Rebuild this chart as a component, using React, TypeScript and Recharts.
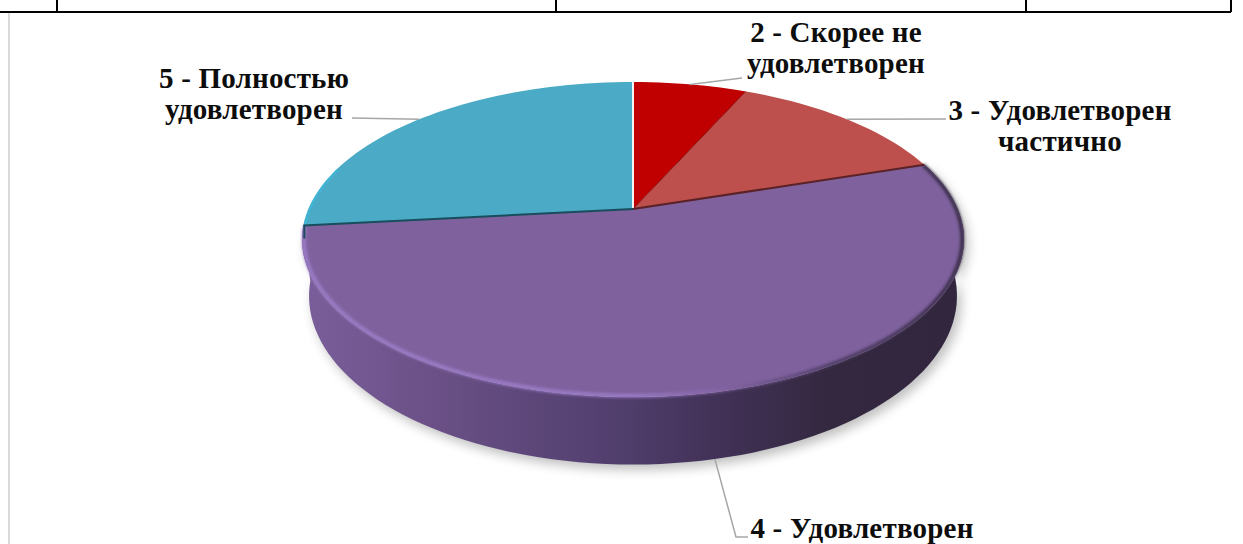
import React from 'react';
import { PieChart, Pie } from 'recharts';

const categories = ['2 - Скорее не удовлетворен', '3 - Удовлетворен частично', '4 - Удовлетворен', '5 - Полностью удовлетворен'];
const shares = [6.7, 13.3, 53.3, 26.7];

const labelLines = [['2 - Скорее не', 'удовлетворен'], ['3 - Удовлетворен', 'частично'], ['4 - Удовлетворен'], ['5 - Полностью', 'удовлетворен']];
const labelCenters = [[836, 34], [1060, 112], [862, 530], [254, 80]];
const lineBends = [[[742, 78]], [[946, 119]], [[736, 537], [748, 537]], [[352, 118]]];

const sliceColors = ['#c00000', '#bd504d', '#7f619e', '#4babc6'];
// colour of the seam at the start of each slice
const seamColors = ['#f4f4f4', '#8a1414', '#5a2226', '#174d5c'];
const WALL_INDEX = 2;

const chartData = categories.map((name, i) => ({ name, value: shares[i] }));

const CX = 633;
const CY = 209;
const RADIUS = 331;

// excel's 3d view: a circle seen in perspective, the centre sits above the ellipse middle
const TILT = -0.1937;
const STRETCH = 111.1;
const WIDTH = 0.981;
const RIM_CY = 239.5;
const RIM_RY = 157;
const FLOOR_CY = 296;
const FLOOR_RX = 324;
const FLOOR_RY = 168;

const project = (deg: number, r = 1) => {
  const t = ((90 - deg) * Math.PI) / 180;
  const u = Math.sin(t) * r;
  const v = -Math.cos(t) * r;
  const w = 1 + TILT * v;
  return { x: CX + (RADIUS * WIDTH * u) / w, y: (STRETCH * v + CY) / w };
};

const toFloor = (p: { x: number; y: number }) => ({
  x: CX + (FLOOR_RX * (p.x - CX)) / RADIUS,
  y: FLOOR_CY + (FLOOR_RY * (p.y - RIM_CY)) / RIM_RY,
});

const sampleArc = (from: number, to: number, r = 1) => {
  const steps = Math.max(4, Math.ceil(Math.abs(to - from) / 2));
  const pts = [];
  for (let i = 0; i <= steps; i++) pts.push(project(from + ((to - from) * i) / steps, r));
  return pts;
};

const toPath = (pts: { x: number; y: number }[]) => pts.map((p, i) => `${i ? 'L' : 'M'}${p.x.toFixed(1)} ${p.y.toFixed(1)}`).join(' ');

const WallShape = (props: any) => {
  if (categories.indexOf(props.name) !== WALL_INDEX) return <g />;
  const top = sampleArc(props.startAngle, props.endAngle);
  const d = toPath([...top, ...top.map(toFloor).reverse()]) + ' Z';
  return (
    <g>
      <path d={d} fill="#000" opacity={0.26} filter="url(#softShadow)" transform="translate(4 5)" />
      <path d={d} fill="url(#wallFill)" />
    </g>
  );
};

const TopShape = (props: any) => {
  const i = categories.indexOf(props.name);
  const d = `M${CX} ${CY} ` + toPath(sampleArc(props.startAngle, props.endAngle)).replace('M', 'L') + ' Z';
  return <path d={d} fill={sliceColors[i]} />;
};

const EdgeShape = (props: any) => {
  const i = categories.indexOf(props.name);
  const s = project(props.startAngle);
  const isLast = i === sliceColors.length - 1;
  return (
    <g>
      {i === WALL_INDEX && (
        <path d={toPath(sampleArc(props.startAngle, props.endAngle, 0.995))} fill="none" stroke="url(#rimGlow)" strokeWidth={3.5} filter="url(#softRim)" />
      )}
      {isLast && (
        <path d={toPath(sampleArc(props.startAngle, props.startAngle - 22, 0.995))} fill="none" stroke="#3fb6d8" strokeWidth={2} />
      )}
      {isLast && <line x1={s.x + 1} y1={s.y} x2={s.x + 1} y2={s.y + 13} stroke={seamColors[i]} strokeWidth={2} />}
      <line x1={CX} y1={CY} x2={s.x} y2={s.y} stroke={seamColors[i]} strokeWidth={i === 1 ? 1 : 2} />
    </g>
  );
};

const renderLabel = (props: any) => {
  const i = categories.indexOf(props.name);
  const [x, y] = labelCenters[i];
  return (
    <text x={x} y={y} textAnchor="middle" fontFamily="'Liberation Serif', serif" fontWeight="bold" fontSize={29} letterSpacing={0.2} fill="#0d0d0d">
      {labelLines[i].map((line, k) => (
        <tspan key={line} x={x} dy={k === 0 ? 8 : 31}>{line}</tspan>
      ))}
    </text>
  );
};

const renderLine = (props: any) => {
  const i = categories.indexOf(props.name);
  const rim = project(props.midAngle);
  const start = i === WALL_INDEX ? toFloor(rim) : rim;
  const pts = [start, ...lineBends[i].map(([x, y]) => ({ x, y }))];
  return <path d={toPath(pts)} fill="none" stroke="#a6a6a6" strokeWidth={1.5} />;
};

const tableCols = [56, 555, 1025, 1230];

const App = () => (
  <div style={{ position: 'absolute', left: 0, top: 0, width: 1243, height: 544, background: '#fff', overflow: 'hidden' }}>
    <div style={{ position: 'absolute', left: 0, top: 11, width: 1231, height: 2, background: '#000' }} />
    {tableCols.map((x) => (
      <div key={x} style={{ position: 'absolute', left: x, top: 0, width: 2, height: 12, background: '#000' }} />
    ))}
    <div style={{ position: 'absolute', left: 8, top: 13, width: 2, height: 531, background: '#d9d9d9' }} />
    <PieChart width={1243} height={544} margin={{ top: 0, right: 0, bottom: 0, left: 0 }} style={{ position: 'absolute', left: 0, top: 0 }}>
      <defs>
        <linearGradient id="wallFill" gradientUnits="userSpaceOnUse" x1={303} y1={0} x2={964} y2={0}>
          <stop offset="0" stopColor="#7a5e9b" />
          <stop offset="0.2" stopColor="#6a5086" />
          <stop offset="0.45" stopColor="#534070" />
          <stop offset="0.62" stopColor="#423258" />
          <stop offset="0.8" stopColor="#33283f" />
          <stop offset="1" stopColor="#31263d" />
        </linearGradient>
        <linearGradient id="rimGlow" gradientUnits="userSpaceOnUse" x1={303} y1={0} x2={964} y2={0}>
          <stop offset="0" stopColor="#9d7fca" />
          <stop offset="0.5" stopColor="#9c7dc8" />
          <stop offset="0.65" stopColor="#7f619e" />
          <stop offset="0.8" stopColor="#4a3a60" />
          <stop offset="1" stopColor="#33283f" />
        </linearGradient>
        <filter id="softShadow" x="-10%" y="-10%" width="120%" height="120%">
          <feGaussianBlur stdDeviation="6" />
        </filter>
        <filter id="softRim" x="-5%" y="-5%" width="110%" height="110%">
          <feGaussianBlur stdDeviation="1.6" />
        </filter>
      </defs>
      <Pie data={chartData} dataKey="value" nameKey="name" cx={CX} cy={CY} outerRadius={RADIUS} startAngle={90} endAngle={-270} stroke="none" shape={WallShape} isAnimationActive={false} />
      <Pie data={chartData} dataKey="value" nameKey="name" cx={CX} cy={CY} outerRadius={RADIUS} startAngle={90} endAngle={-270} stroke="none" shape={TopShape} isAnimationActive={false} />
      <Pie data={chartData} dataKey="value" nameKey="name" cx={CX} cy={CY} outerRadius={RADIUS} startAngle={90} endAngle={-270} stroke="none" shape={EdgeShape} label={renderLabel} labelLine={renderLine} isAnimationActive={false} />
    </PieChart>
  </div>
);

export default App;
